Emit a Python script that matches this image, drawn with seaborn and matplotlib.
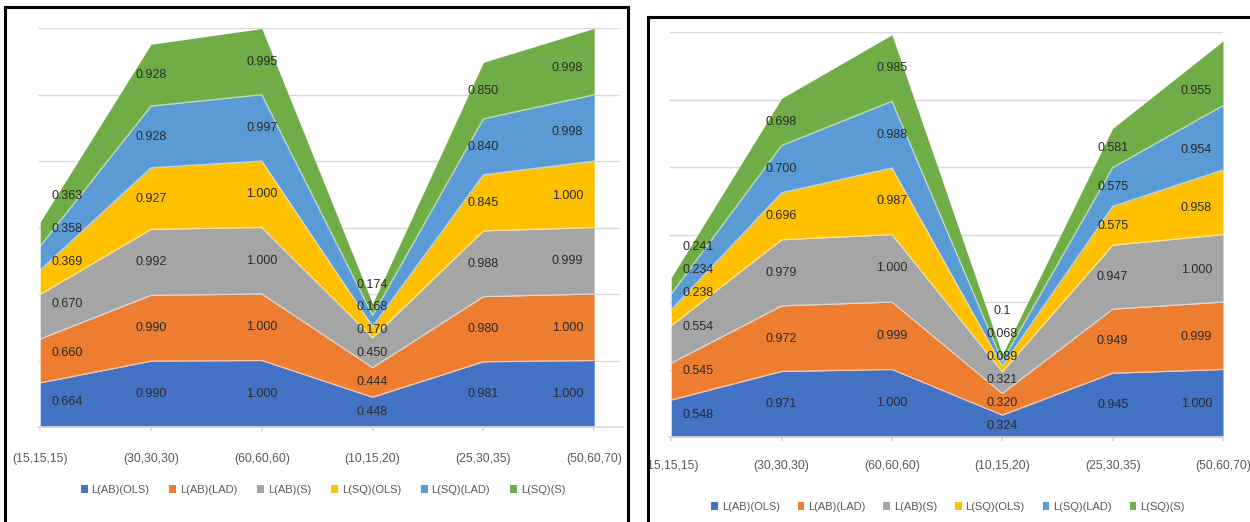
import numpy as np
import pandas as pd
import matplotlib
matplotlib.use("Agg")
import matplotlib.pyplot as plt
from matplotlib.patches import Rectangle
from matplotlib.lines import Line2D
import seaborn as sns

# ---- data -------------------------------------------------------------
categories = ["(15,15,15)", "(30,30,30)", "(60,60,60)",
              "(10,15,20)", "(25,30,35)", "(50,60,70)"]
series_names = ["L(AB)(OLS)", "L(AB)(LAD)", "L(AB)(S)",
                "L(SQ)(OLS)", "L(SQ)(LAD)", "L(SQ)(S)"]

# first panel
a_ab_ols = ["0.664", "0.990", "1.000", "0.448", "0.981", "1.000"]
a_ab_lad = ["0.660", "0.990", "1.000", "0.444", "0.980", "1.000"]
a_ab_s   = ["0.670", "0.992", "1.000", "0.450", "0.988", "0.999"]
a_sq_ols = ["0.369", "0.927", "1.000", "0.170", "0.845", "1.000"]
a_sq_lad = ["0.358", "0.928", "0.997", "0.168", "0.840", "0.998"]
a_sq_s   = ["0.363", "0.928", "0.995", "0.174", "0.850", "0.998"]

# second panel
b_ab_ols = ["0.548", "0.971", "1.000", "0.324", "0.945", "1.000"]
b_ab_lad = ["0.545", "0.972", "0.999", "0.320", "0.949", "0.999"]
b_ab_s   = ["0.554", "0.979", "1.000", "0.321", "0.947", "1.000"]
b_sq_ols = ["0.238", "0.696", "0.987", "0.089", "0.575", "0.958"]
b_sq_lad = ["0.234", "0.700", "0.988", "0.068", "0.575", "0.954"]
b_sq_s   = ["0.241", "0.698", "0.985", "0.1",   "0.581", "0.955"]

panel_a = [a_ab_ols, a_ab_lad, a_ab_s, a_sq_ols, a_sq_lad, a_sq_s]
panel_b = [b_ab_ols, b_ab_lad, b_ab_s, b_sq_ols, b_sq_lad, b_sq_s]

# ---- style ------------------------------------------------------------
sns.set_theme(style="white")
plt.rcParams["font.family"] = ["Liberation Sans", "DejaVu Sans"]
palette = sns.color_palette(["#4472C4", "#ED7D31", "#A5A5A5",
                             "#FFC000", "#5B9BD5", "#70AD47"])
TEXT = "#595959"
LABEL = "#2a2a2a"
GRID = "#d9d9d9"

W, H = 1250, 522
fig = plt.figure(figsize=(W / 100, H / 100), dpi=100)
fig.patch.set_facecolor("white")


def px_axes(x0, x1, ytop, ybot):
    return fig.add_axes([x0 / W, 1 - ybot / H, (x1 - x0) / W, (ybot - ytop) / H])


def draw_panel(ax, series, xmax, grid_end, tick_pad):
    values = pd.DataFrame({n: [float(v) for v in s] for n, s in zip(series_names, series)})
    texts = {n: s for n, s in zip(series_names, series)}
    cum = values.cumsum(axis=1)
    x = np.arange(len(categories))

    ax.set_xlim(-0.02, xmax)
    ax.set_ylim(0, 6)

    # horizontal gridlines
    ax.hlines(np.arange(1, 7), -0.02, grid_end, color=GRID, lw=1.0, zorder=1)

    # stacked bands
    lower = np.zeros(len(x))
    for name, color in zip(series_names, palette):
        upper = cum[name].to_numpy()
        ax.fill_between(x, lower, upper, color=color, lw=0, zorder=2)
        lower = upper

    # thin light separators between bands
    inner = cum[series_names[:-1]].assign(x=x).melt(
        id_vars="x", var_name="series", value_name="top")
    sns.lineplot(data=inner, x="x", y="top", units="series", estimator=None,
                 color="white", lw=0.9, alpha=0.55, ax=ax, legend=False,
                 zorder=3, sort=False)

    # value labels, centred in each band, nudged inward at the ends
    edge = 0.24
    min_gap = 0.34
    bottoms = np.column_stack([np.zeros(len(x))] +
                              [cum[n].to_numpy() for n in series_names[:-1]])
    tops = cum[series_names].to_numpy()
    for j in range(len(x)):
        xs = j
        if j == 0:
            xs = j + edge
        elif j == len(x) - 1:
            xs = j - edge
        prev = -np.inf
        for i, name in enumerate(series_names):
            lo = np.interp(xs, x, bottoms[:, i])
            hi = np.interp(xs, x, tops[:, i])
            yv = max((lo + hi) / 2, prev + min_gap)
            prev = yv
            ax.text(xs, yv, texts[name][j], ha="center", va="center",
                    fontsize=9, color=LABEL, zorder=5)

    ax.set_xticks(x)
    ax.set_xticklabels(categories, fontsize=8.8, color=TEXT)
    ax.tick_params(axis="x", length=3, color=GRID, pad=tick_pad, bottom=True)
    ax.set_yticks([])
    ax.set_xlabel("")
    ax.set_ylabel("")
    for side in ["top", "right", "left"]:
        ax.spines[side].set_visible(False)
    ax.spines["bottom"].set_color(GRID)
    ax.patch.set_alpha(0)


ax_a = px_axes(38, 623, 28, 427)
draw_panel(ax_a, panel_a, 5.26, 5.22, 16)

ax_b = px_axes(669, 1223, 32, 437)
draw_panel(ax_b, panel_b, 5.0, 5.0, 13.5)

# legends
handles = [Rectangle((0, 0), 1, 1, facecolor=c, edgecolor="none") for c in palette]
for cx, cy, gap in [(323, 490, 1.8), (948, 507, 1.6)]:
    fig.legend(handles, series_names, loc="center", ncol=6,
               bbox_to_anchor=(cx / W, 1 - cy / H), frameon=False,
               fontsize=8, labelcolor=TEXT, handlelength=0.6,
               handleheight=0.8, handletextpad=0.35, columnspacing=gap)

# panel frames
fig.patches.append(Rectangle((631 / W, 0), 16 / W, 1, transform=fig.transFigure,
                             facecolor="white", edgecolor="none", zorder=8))
frame_kw = dict(color="black", lw=2.2, transform=fig.transFigure, zorder=9,
                solid_capstyle="projecting")
fig.lines.extend([
    Line2D([5 / W, 5 / W], [0, 1 - 7 / H], **frame_kw),
    Line2D([5 / W, 628 / W], [1 - 7 / H, 1 - 7 / H], **frame_kw),
    Line2D([628 / W, 628 / W], [0, 1 - 7 / H], **frame_kw),
    Line2D([648 / W, 648 / W], [0, 1 - 17 / H], **frame_kw),
    Line2D([648 / W, 1], [1 - 17 / H, 1 - 17 / H], **frame_kw),
])

fig.savefig("out.png", dpi=100, facecolor="white")
